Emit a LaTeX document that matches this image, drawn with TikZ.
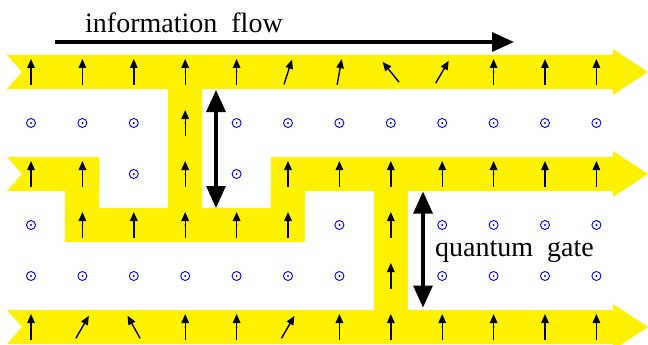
\documentclass[tikz,border=0pt]{standalone}
\usepackage{fontspec}
\setmainfont{Liberation Serif}
\usetikzlibrary{arrows.meta}
\newcommand\qspin[3]{%
  \draw[spin] ({31+51.4*(#1-1)-13*sin(#3)},{72+51*(#2-1)+13*cos(#3)}) -- ({31+51.4*(#1-1)+13*sin(#3)},{72+51*(#2-1)-13*cos(#3)});}
\newcommand\qup[2]{\qspin{#1}{#2}{0}\fill[spindot] ({31+51.4*(#1-1)},{72+51*(#2-1)}) circle (0.9pt);}
\newcommand\qsite[2]{%
  \node[site] (s#1-#2) at ({31+51.4*(#1-1)},{72+51*(#2-1)}) {};
  \fill[blue] (s#1-#2.center) circle (1.1pt);}
\begin{document}
\begin{tikzpicture}[x=1pt,y=-1pt,
  band/.style={fill=yellow,draw=none},
  spin/.style={line width=1.4pt,-{Triangle[length=9pt,width=7.5pt]}},
  spindot/.style={fill=blue!70!black},
  flowarrow/.style={line width=3.2pt,-{Triangle[length=22pt,width=19pt]}},
  gatearrow/.style={line width=3.2pt,{Triangle[length=22pt,width=19pt]}-{Triangle[length=22pt,width=19pt]}},
  site/.style={circle,draw=blue,line width=0.9pt,minimum size=9pt,inner sep=0pt},
  lbl/.style={font=\fontsize{28}{32}\selectfont,inner sep=0pt}]
\useasboundingbox (0,0) rectangle (648,345);
\clip (0,0) rectangle (648,345);
% yellow tracks
\fill[band] (7,55) -- (613,55) -- (613,49) -- (648,72) -- (613,95) -- (613,89) -- (7,89) -- (22,72) -- cycle;
\fill[band] (7,157) -- (99.4,157) -- (99.4,191) -- (7,191) -- (22,174) -- cycle;
\fill[band] (65.4,157) rectangle (99.4,242);
\fill[band] (65.4,208) rectangle (305,242);
\fill[band] (271,157) rectangle (305,242);
\fill[band] (271,157) -- (613,157) -- (613,151) -- (648,174) -- (613,197) -- (613,191) -- (271,191) -- cycle;
\fill[band] (168.2,72) rectangle (202.2,225);
\fill[band] (373.8,174) rectangle (407.8,327);
\fill[band] (7,310) -- (613,310) -- (613,304) -- (648,327) -- (613,350) -- (613,344) -- (7,344) -- (22,327) -- cycle;
% row 1
\foreach \c in {1,2,3,4,5,10,11,12} {\qup{\c}{1}}
\qspin{6}{1}{18}
\qspin{7}{1}{10}
\qspin{8}{1}{-39}
\qspin{9}{1}{30}
% row 2
\foreach \c in {1,2,3,5,6,7,8,9,10,11,12} {\qsite{\c}{2}}
\qup{4}{2}
% row 3
\foreach \c in {1,2,4,6,7,8,9,10,11,12} {\qup{\c}{3}}
\foreach \c in {3,5} {\qsite{\c}{3}}
% row 4
\foreach \c in {2,3,4,5,6,8} {\qup{\c}{4}}
\foreach \c in {1,7,9,10,11,12} {\qsite{\c}{4}}
% row 5
\foreach \c in {1,2,3,4,5,6,7,9,10,11,12} {\qsite{\c}{5}}
\qup{8}{5}
% row 6
\foreach \c in {1,4,5,7,8,9,10,11,12} {\qup{\c}{6}}
\qspin{2}{6}{30}
\qspin{3}{6}{-29}
\qspin{6}{6}{30}
% information flow
\coordinate (flowA) at (55,42);
\coordinate (flowB) at (514,42);
\draw[flowarrow] (flowA) -- (flowB);
\node[lbl,anchor=base west] (flowlbl) at (85,32.5) {information\hspace{0.5em}flow};
% gates
\coordinate (g1a) at (216,90);
\coordinate (g1b) at (216,208);
\draw[gatearrow] (g1a) -- (g1b);
\coordinate (g2a) at (423,191.5);
\coordinate (g2b) at (423,307.5);
\draw[gatearrow] (g2a) -- (g2b);
\node[lbl,anchor=base west] (gatelbl) at (435,256) {quantum\hspace{0.5em}gate};
\end{tikzpicture}
\end{document}
